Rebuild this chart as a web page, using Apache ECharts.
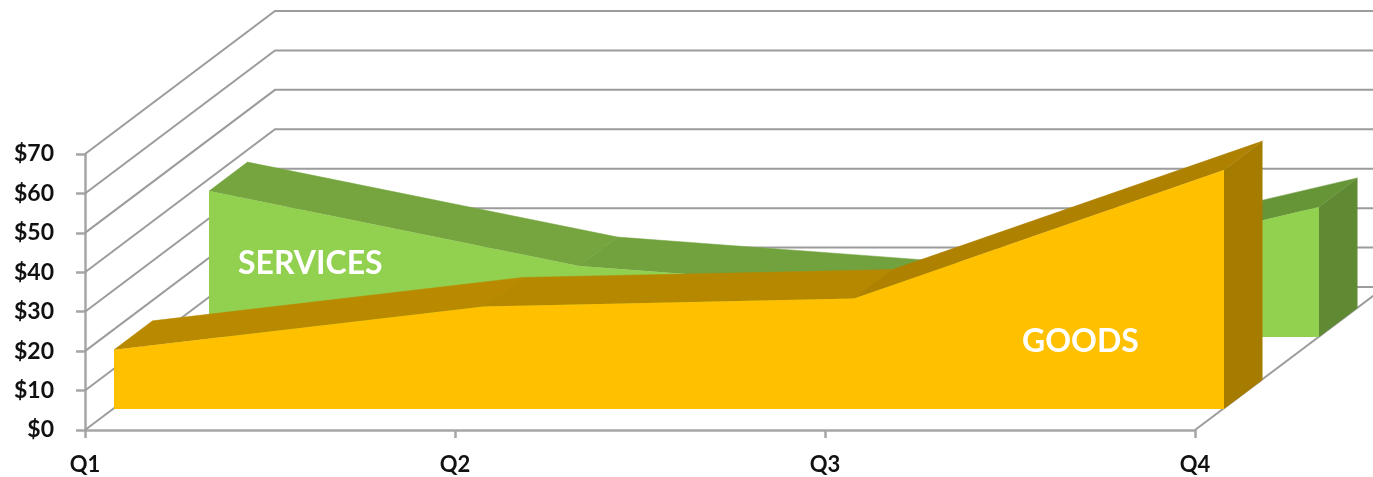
<!DOCTYPE html>
<html>
<head>
<meta charset="utf-8">
<style>
  html, body { margin: 0; padding: 0; background: #fff; }
  #chart { width: 1373px; height: 477px; }
</style>
<script src="https://cdn.jsdelivr.net/npm/echarts@6/dist/echarts.min.js"></script>
</head>
<body>
<div id="chart"></div>
<script>
const quarters = ['Q1', 'Q2', 'Q3', 'Q4']
const yTicks = [0, 10, 20, 30, 40, 50, 60, 70]
const goods = [15, 26, 28, 60.6]
const services = [37, 18, 11, 33]

// depth of the fake 3d box, in px
const wall = [190, -143]
const sliceDepth = [38.5, -29]
const goodsShift = [29, -21]
const servicesShift = [124, -93]

const shift = (p, d) => [p[0] + d[0], p[1] + d[1]]

// one series slab: front face, top strips, right side
function slab(values, offset, colors) {
  return function (params, api) {
    const i = params.dataIndex
    const front = (k, v) => shift(api.coord([k, v]), offset)
    const children = []
    if (i < values.length - 1) {
      const a = front(i, values[i])
      const b = front(i + 1, values[i + 1])
      children.push({
        type: 'polygon',
        shape: { points: [a, b, shift(b, sliceDepth), shift(a, sliceDepth)] },
        style: { fill: colors.top[i], stroke: colors.top[i], lineWidth: 0.5 }
      })
    } else {
      const pts = values.map((v, k) => front(k, v))
      const left = front(0, 0)
      const right = front(values.length - 1, 0)
      const topRight = pts[pts.length - 1]
      children.push({
        type: 'polygon',
        shape: { points: [topRight, shift(topRight, sliceDepth), shift(right, sliceDepth), right] },
        style: { fill: colors.side }
      })
      children.push({
        type: 'polygon',
        shape: { points: [left].concat(pts, [right]) },
        style: { fill: colors.front }
      })
    }
    return { type: 'group', children }
  }
}

function wallLines(params, api) {
  const v = api.value(0)
  const start = api.coord([0, v])
  const corner = shift(start, wall)
  const end = shift(api.coord([3, v]), wall)
  const lineStyle = { stroke: '#9c9c9c', lineWidth: 2, fill: null }
  const children = [{ type: 'polyline', shape: { points: [start, corner, end] }, style: lineStyle }]
  if (v === 0) {
    const q4 = api.coord([3, 0])
    children.push({ type: 'line', shape: { x1: q4[0], y1: q4[1], x2: end[0], y2: end[1] }, style: lineStyle })
  }
  return { type: 'group', children }
}

const chart = echarts.init(document.getElementById('chart'), null, { renderer: 'canvas' })
chart.setOption({
  animation: false,
  backgroundColor: '#fff',
  textStyle: { fontFamily: 'Lato' },
  grid: { left: 85, right: 178, top: 154, bottom: 47 },
  xAxis: {
    type: 'category',
    boundaryGap: false,
    data: quarters,
    axisLine: { lineStyle: { color: '#a6a6a6', width: 2.5 } },
    axisTick: { alignWithLabel: true, length: 8, lineStyle: { color: '#a6a6a6', width: 2.5 } },
    axisLabel: { color: '#111', fontWeight: 'bold', fontSize: 22, margin: 24, fontFamily: 'Lato' },
    splitLine: { show: false }
  },
  yAxis: {
    type: 'value',
    min: 0,
    max: 70,
    interval: 10,
    axisLine: { show: true, lineStyle: { color: '#a6a6a6', width: 2.5 } },
    axisTick: { show: true, length: 9, lineStyle: { color: '#a6a6a6', width: 2.5 } },
    axisLabel: { color: '#111', fontWeight: 'bold', fontSize: 23, margin: 31, padding: [10, 0, 0, 0], fontFamily: 'Lato', formatter: v => '$' + v },
    splitLine: { show: false }
  },
  series: [
    {
      type: 'custom',
      name: 'walls',
      coordinateSystem: 'cartesian2d',
      data: yTicks.map(v => [v]),
      encode: { y: 0 },
      renderItem: wallLines,
      silent: true,
      z: 1
    },
    {
      type: 'custom',
      name: 'SERVICES',
      coordinateSystem: 'cartesian2d',
      data: services.map((v, i) => [i, v]),
      renderItem: slab(services, servicesShift, {
        front: '#92d050',
        top: ['#76a540', '#72a23e', '#669537'],
        side: '#5f8a33'
      }),
      silent: true,
      z: 2
    },
    {
      type: 'custom',
      name: 'GOODS',
      coordinateSystem: 'cartesian2d',
      data: goods.map((v, i) => [i, v]),
      renderItem: slab(goods, goodsShift, {
        front: '#ffc000',
        top: ['#b98a00', '#b68800', '#ae8100'],
        side: '#a67c00'
      }),
      silent: true,
      z: 3
    }
  ],
  graphic: [
    {
      type: 'text', left: 238, top: 248, z: 10,
      style: { text: 'SERVICES', fill: '#fff', font: 'bold 32px Lato' }
    },
    {
      type: 'text', left: 1022, top: 326, z: 10,
      style: { text: 'GOODS', fill: '#fff', font: 'bold 32px Lato' }
    }
  ]
})
</script>
</body>
</html>
